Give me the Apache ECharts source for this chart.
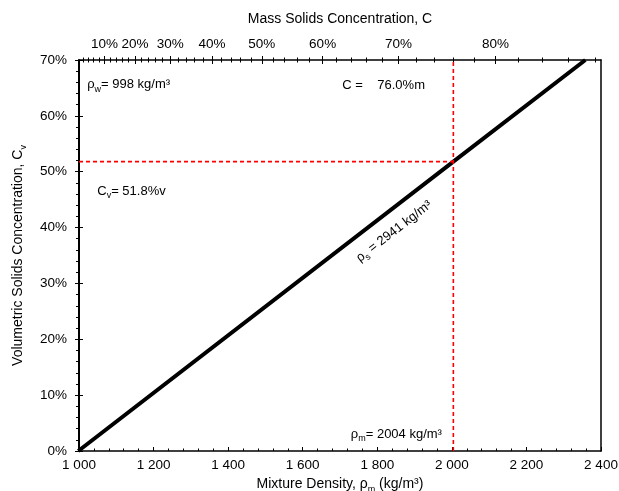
<!DOCTYPE html>
<html>
<head>
<meta charset="utf-8">
<script src="https://cdn.jsdelivr.net/npm/echarts@6/dist/echarts.min.js"></script>
<style>
  html, body { margin: 0; padding: 0; background: #fff; }
  #chart { width: 619px; height: 491px; }
</style>
</head>
<body>
<div id="chart"></div>
<script>
// Fluid and solids properties (kg/m³)
const waterDensity = 998;
const solidsDensity = 2941;
const mixtureDensity = 2004;
const volumeConcentration = 51.8; // %
const massConcentration = 76.0;   // %

// Mixture line: density (kg/m³) against volumetric concentration (%)
const lineDensity = [998, 2004, 2358];
const lineCv = [0, 51.8, 70];

// Axis ticks
const densityTicks = [1000, 1200, 1400, 1600, 1800, 2000, 2200, 2400];
const cvTicks = [0, 10, 20, 30, 40, 50, 60, 70];
const massMajorTicks = [10, 20, 30, 40, 50, 60, 70, 80];
const massMinorTicks = [2, 4, 6, 8, 12, 14, 16, 18, 22, 24, 26, 28, 32, 34, 36, 38,
  42, 44, 46, 48, 52, 54, 56, 58, 62, 64, 66, 68, 72, 74, 76, 78, 82, 84, 86, 88];

const FONT = "'Liberation Sans', Arial, Helvetica, sans-serif";
const INK = '#000';
const RED = '#ff0000';

// mixture density that corresponds to a mass concentration (%)
function densityForMass(c) {
  const f = c / 100;
  return 1 / (f / solidsDensity + (1 - f) / waterDensity);
}
const massMajorPos = massMajorTicks.map(densityForMass);
const massMinorPos = massMinorTicks.map(densityForMass);

function massLabel(v) {
  let best = 0, bestD = Infinity;
  massMajorPos.forEach((p, i) => {
    const d = Math.abs(p - v);
    if (d < bestD) { bestD = d; best = i; }
  });
  return massMajorTicks[best] + '%';
}

function thousands(v) {
  return String(v).replace(/\B(?=(\d{3})+(?!\d))/g, ' ');
}

const chart = echarts.init(document.getElementById('chart'), null, { renderer: 'canvas' });

const xMin = densityTicks[0];
const xMax = densityTicks[densityTicks.length - 1];
const yMin = cvTicks[0];
const yMax = cvTicks[cvTicks.length - 1];

const baseLine = { show: true, onZero: false, lineStyle: { color: INK, width: 1.5 } };
const noLine = { show: false, onZero: false };
const subStyle = { fontFamily: FONT, fontSize: 9, verticalAlign: 'bottom', lineHeight: 9, padding: [0, 0, -3, 0] };

function topAxis(values, inside, length, withLabels) {
  return {
    type: 'value', position: 'top', min: xMin, max: xMax,
    axisLine: withLabels ? baseLine : noLine,
    splitLine: { show: false },
    axisTick: { show: true, inside: inside, length: length, customValues: values,
      lineStyle: { color: INK, width: 1 } },
    axisLabel: withLabels ? {
      show: true, customValues: values, formatter: massLabel,
      color: INK, fontFamily: FONT, fontSize: 13.5, margin: 9, hideOverlap: false
    } : { show: false },
    name: withLabels ? 'Mass Solids Concentration, C' : '',
    nameLocation: 'middle', nameGap: 34,
    nameTextStyle: { color: INK, fontFamily: FONT, fontSize: 14 }
  };
}

const option = {
  animation: false,
  backgroundColor: '#fff',
  grid: { left: 79, right: 18, top: 60, bottom: 40, containLabel: false, outerBoundsMode: 'none' },
  xAxis: [
    {
      type: 'value', position: 'bottom', min: xMin, max: xMax, interval: 200,
      axisLine: baseLine,
      splitLine: { show: false },
      axisTick: { show: true, inside: true, length: 4, lineStyle: { color: INK, width: 1 } },
      minorTick: { show: true, splitNumber: 5, length: 2.5, lineStyle: { color: INK, width: 1 } },
      minorSplitLine: { show: false },
      axisLabel: { color: INK, fontFamily: FONT, fontSize: 13.5, margin: 7, formatter: thousands },
      name: 'Mixture Density, ρ{s|m} (kg/m³)',
      nameLocation: 'middle', nameGap: 22,
      nameTextStyle: { color: INK, fontFamily: FONT, fontSize: 14, rich: { s: subStyle } }
    },
    topAxis(massMajorPos, false, 4, true),
    topAxis(massMajorPos, true, 4, false),
    topAxis(massMinorPos, false, 2.5, false),
    topAxis(massMinorPos, true, 2.5, false)
  ],
  yAxis: [
    {
      type: 'value', position: 'left', min: yMin, max: yMax, interval: 10,
      axisLine: { show: true, onZero: false, lineStyle: { color: INK, width: 2 } },
      splitLine: { show: false },
      axisTick: { show: true, inside: false, length: 4, lineStyle: { color: INK, width: 1 } },
      minorTick: { show: true, splitNumber: 5, length: 3, lineStyle: { color: INK, width: 1 } },
      axisLabel: { color: INK, fontFamily: FONT, fontSize: 13.5, margin: 12, formatter: '{value}%' },
      name: 'Volumetric Solids Concentration, C{s|v}',
      nameLocation: 'middle', nameGap: 54, nameRotate: 90,
      nameTextStyle: { color: INK, fontFamily: FONT, fontSize: 14, rich: { s: subStyle } }
    },
    {
      type: 'value', position: 'left', min: yMin, max: yMax, interval: 10,
      axisLine: noLine, splitLine: { show: false },
      axisTick: { show: true, inside: true, length: 4, lineStyle: { color: INK, width: 1 } },
      axisLabel: { show: false }
    },
    {
      type: 'value', position: 'right', min: yMin, max: yMax, interval: 10,
      axisLine: baseLine, splitLine: { show: false },
      axisTick: { show: false }, axisLabel: { show: false }
    }
  ],
  series: [
    {
      type: 'line', xAxisIndex: 0, yAxisIndex: 0,
      data: lineDensity.map((d, i) => [d, lineCv[i]]),
      showSymbol: false, symbol: 'none', clip: true,
      lineStyle: { color: INK, width: 4 }, z: 3
    },
    {
      type: 'line', xAxisIndex: 0, yAxisIndex: 0,
      data: [[xMin, volumeConcentration], [mixtureDensity, volumeConcentration]],
      showSymbol: false, symbol: 'none',
      lineStyle: { color: RED, width: 1.6, type: [4, 3] }, z: 4
    },
    {
      type: 'line', xAxisIndex: 0, yAxisIndex: 0,
      data: [[mixtureDensity, yMin], [mixtureDensity, yMax]],
      showSymbol: false, symbol: 'none',
      lineStyle: { color: RED, width: 1.6, type: [4, 3] }, z: 4
    }
  ]
};

chart.setOption(option);

// annotations, anchored to data coordinates
const px = (x, y) => chart.convertToPixel({ gridIndex: 0 }, [x, y]);
const richStyle = {
  n: { fontFamily: FONT, fontSize: 13, lineHeight: 16, verticalAlign: 'middle', fill: INK },
  s: { fontFamily: FONT, fontSize: 9, lineHeight: 9, verticalAlign: 'bottom', fill: INK, padding: [0, 0, -1, 0] }
};
function note(pos, text) {
  return {
    type: 'text', x: pos[0], y: pos[1], z: 10,
    style: { text: text, rich: richStyle, align: 'left', verticalAlign: 'middle',
      fontFamily: FONT, fontSize: 13, fill: INK }
  };
}

const pW = px(1022, 65.6);
const pC = px(1706, 65.4);
const pV = px(1049, 46.5);
const pM = px(1729, 3.0);
const pS = px(1845, 39.3);
const p0 = px(lineDensity[0], lineCv[0]);
const p1 = px(lineDensity[2], lineCv[2]);
const angle = Math.atan2(p0[1] - p1[1], p1[0] - p0[0]);

chart.setOption({
  graphic: [
    note(pW, '{n|ρ}{s|w}{n|= ' + waterDensity + ' kg/m³}'),
    note(pC, '{n|C =    ' + massConcentration.toFixed(1) + '%m}'),
    note(pV, '{n|C}{s|v}{n|= ' + volumeConcentration.toFixed(1) + '%v}'),
    note(pM, '{n|ρ}{s|m}{n|= ' + mixtureDensity + ' kg/m³}'),
    {
      type: 'text', x: pS[0], y: pS[1], rotation: angle, z: 10,
      style: { text: '{n|ρ}{s|s}{n| = ' + solidsDensity + ' kg/m³}', rich: richStyle,
        align: 'center', verticalAlign: 'middle', fontFamily: FONT, fontSize: 13, fill: INK }
    }
  ]
});
</script>
</body>
</html>
